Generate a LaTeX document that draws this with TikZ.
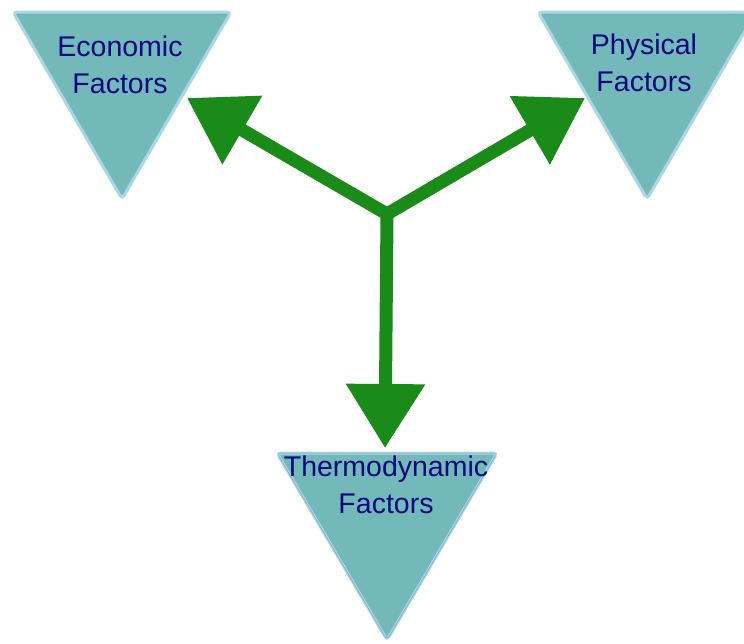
\documentclass[tikz,border=0pt]{standalone}
\usepackage{fontspec}
\setmainfont{Liberation Sans}
\usetikzlibrary{arrows.meta}
\definecolor{tfill}{RGB}{116,185,185}
\definecolor{tglow}{RGB}{170,215,228}
\definecolor{tedge}{RGB}{120,160,200}
\definecolor{arrowgreen}{RGB}{26,138,24}
\definecolor{labelblue}{RGB}{8,8,128}
\begin{document}
\begin{tikzpicture}[x=1pt,y=-1pt,
  factortri/.style={fill=tfill,draw=tglow,line width=3pt,rounded corners=4pt},
  factortriin/.style={draw=tedge,line width=0.5pt,rounded corners=4pt},
  factorlabel/.style={text=labelblue,align=center,inner sep=0pt,font=\fontsize{28.5}{37}\selectfont},
  flow/.style={draw=arrowgreen,line width=13pt,-{Triangle[length=64pt,width=76pt]}}]
\useasboundingbox (0,0) rectangle (744,643);
% triangles
\path[factortri] (13,12) -- (231,12) -- (122,199) -- cycle;
\path[factortri] (538,12) -- (756,12) -- (647,199) -- cycle;
\path[factortri] (277,453) -- (497,453) -- (387,640) -- cycle;
\path[factortriin] (277,453) -- (497,453) -- (387,640) -- cycle;
% labels
\node[factorlabel] (econ) at (120,65) {Economic\\Factors};
\node[factorlabel] (phys) at (644,63) {Physical\\Factors};
\node[factorlabel] (thermo) at (386,485) {Thermodynamic\\Factors};
% connectors
\coordinate (hub) at (387,214);
\coordinate (tipL) at (187,98);
\coordinate (tipR) at (585,98);
\coordinate (tipB) at (385,448);
\draw[flow] (hub) -- (tipL);
\draw[flow] (hub) -- (tipR);
\draw[flow] (hub) -- (tipB);
\end{tikzpicture}
\end{document}
